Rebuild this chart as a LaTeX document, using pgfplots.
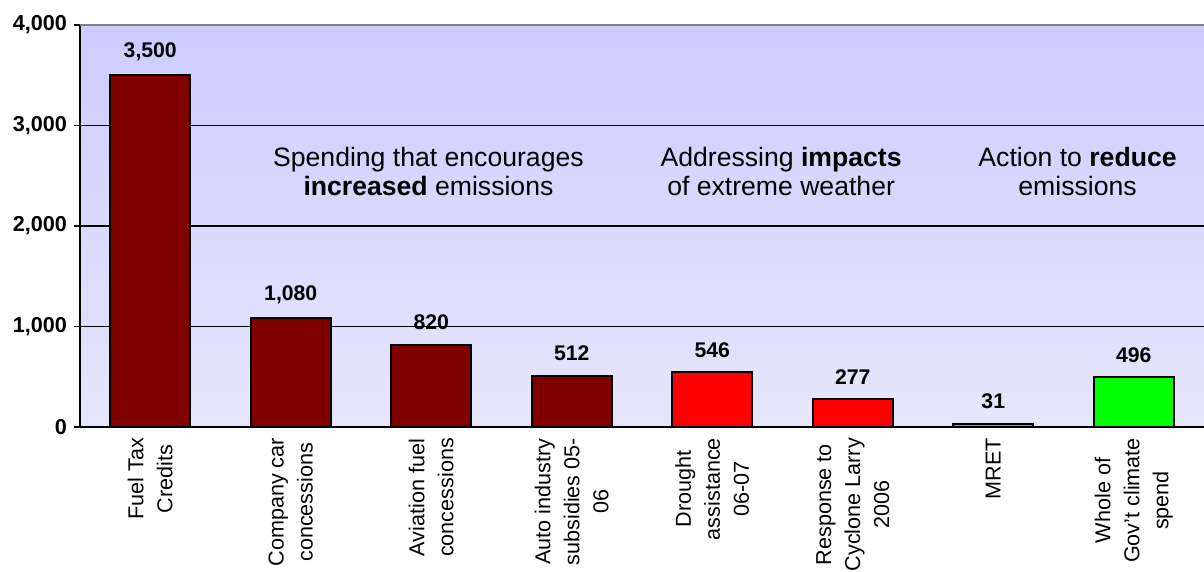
\documentclass[border=0pt]{standalone}
\usepackage{pgfplots}
\pgfplotsset{compat=1.18}
\usepackage{fontspec}
\setmainfont{Liberation Sans}

\definecolor{barmaroon}{RGB}{128,0,0}
\definecolor{barred}{RGB}{255,0,0}
\definecolor{bargreen}{RGB}{0,255,0}
\definecolor{bgtop}{RGB}{204,204,255}
\definecolor{bgbottom}{RGB}{230,230,252}

\begin{document}
\begin{tikzpicture}
\begin{axis}[
  scale only axis,
  width=562pt, height=201pt,
  xmin=-0.5, xmax=7.5,
  ymin=0, ymax=4000,
  ybar, bar width=0.57, bar shift=0pt,
  axis x line*=bottom, axis y line*=left,
  axis line style={black, line width=0.8pt},
  axis background/.style={shade, top color=bgtop, bottom color=bgbottom},
  ytick={0,1000,2000,3000,4000},
  ymajorgrids,
  grid style={black, line width=0.7pt},
  tick align=outside,
  major tick length=3pt,
  tick style={black, line width=0.8pt},
  /pgf/number format/.cd, 1000 sep={,}, assume math mode=true,
  /pgfplots/.cd,
  yticklabel style={font=\bfseries\fontsize{10.8}{12}\selectfont},
  xtick={0,1,2,3,4,5,6,7},
  xticklabels={{Fuel Tax\\Credits},{Company car\\concessions},{Aviation fuel\\concessions},{Auto industry\\subsidies 05-\\06},{Drought\\assistance\\06-07},{Response to\\Cyclone Larry\\2006},{MRET},{Whole of\\Gov't climate\\spend}},
  x tick style={draw=none},
  xticklabel style={rotate=90, anchor=east, align=center, font=\fontsize{10.8}{14.5}\selectfont, xshift=1pt},
  extra x ticks={-0.5,0.5,1.5,2.5,3.5,4.5,5.5,6.5,7.5},
  extra x tick labels={},
  extra x tick style={grid=none, tick style={draw=black, line width=0.8pt}, major tick length=4pt},
  nodes near coords,
  nodes near coords style={font=\bfseries\fontsize{10.6}{12}\selectfont, yshift=3.5pt},
  clip=false,
]
\coordinate (bl) at (rel axis cs:0,0);
\coordinate (tr) at (rel axis cs:1,1);
\addplot[fill=barmaroon, draw=black, line width=1pt] coordinates {(0,3500) (1,1080) (2,820) (3,512)};
\addplot[fill=barred, draw=black, line width=1pt] coordinates {(4,546) (5,277)};
\addplot[fill=bargreen, draw=black, line width=1pt] coordinates {(6,31) (7,496)};
\draw[gray, line width=0.9pt] (rel axis cs:0,1) -- (rel axis cs:1,1);
\node[align=center, font=\fontsize{13.3}{14.5}\selectfont] at (axis cs:1.98,2540) {Spending that encourages\\\textbf{increased} emissions};
\node[align=center, font=\fontsize{13.3}{14.5}\selectfont] at (axis cs:4.49,2540) {Addressing \textbf{impacts}\\of extreme weather};
\node[align=center, font=\fontsize{13.3}{14.5}\selectfont] at (axis cs:6.6,2540) {Action to \textbf{reduce}\\emissions};
\end{axis}
\pgfresetboundingbox
\path[use as bounding box] ([xshift=-40pt,yshift=-72.5pt]bl) rectangle ([yshift=12.5pt]tr);
\end{tikzpicture}
\end{document}
